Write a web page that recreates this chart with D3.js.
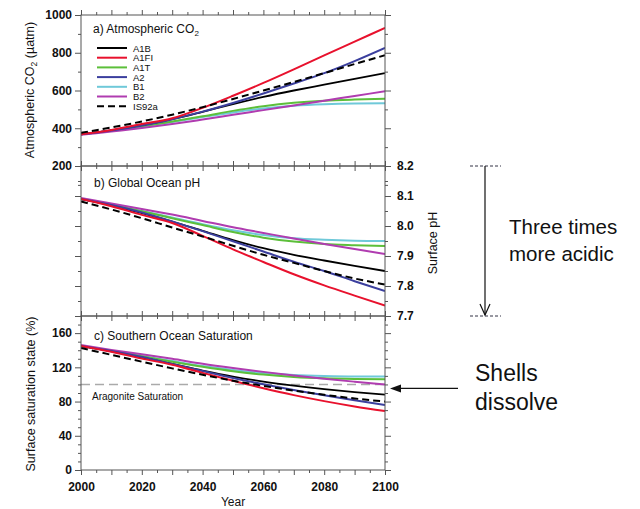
<!DOCTYPE html>
<html><head><meta charset="utf-8">
<script src="https://cdn.jsdelivr.net/npm/d3@7"></script>
<style>
body{margin:0;background:#fff}
text{font-family:"Liberation Sans",Arial,Helvetica,sans-serif;fill:#111}
</style>
</head><body>
<svg id="chart" width="640" height="509"></svg>
<script>
const years = [2000,2010,2020,2030,2040,2050,2060,2070,2080,2090,2100];
const scenarios = ["A1B","A1FI","A1T","A2","B1","B2","IS92a"];
const scenarioColors = ["#000000","#e8112d","#5cbf3a","#3b3f9e","#6fc9d9","#b03cb0","#000000"];

// a) Atmospheric CO2 (uatm)
const co2A1B   = [368,389,416,448,487,528,566,600,631,662,692];
const co2A1FI  = [368,391,422,453,508,572,640,712,786,859,932];
const co2A1T   = [368,387,410,436,463,492,517,535,546,552,556];
const co2A2    = [368,388,414,448,488,534,584,637,692,756,826];
const co2B1    = [368,387,409,433,459,484,505,519,527,531,532];
const co2B2    = [365,383,401,422,446,471,496,521,546,571,596];
const co2IS92a = [376,404,436,472,512,555,600,645,692,740,787];

// b) Global ocean pH
const phA1B   = [8.090,8.069,8.043,8.015,7.984,7.953,7.926,7.904,7.885,7.867,7.850];
const phA1FI  = [8.090,8.066,8.037,8.010,7.967,7.922,7.880,7.839,7.802,7.768,7.735];
const phA1T   = [8.090,8.071,8.049,8.026,8.003,7.980,7.961,7.948,7.940,7.936,7.933];
const phA2    = [8.090,8.070,8.045,8.015,7.983,7.949,7.915,7.881,7.850,7.816,7.783];
const phB1    = [8.090,8.071,8.050,8.028,8.006,7.986,7.970,7.959,7.954,7.951,7.950];
const phB2    = [8.093,8.075,8.057,8.038,8.017,7.996,7.977,7.958,7.940,7.923,7.907];
const phIS92a = [8.082,8.055,8.026,7.995,7.965,7.934,7.904,7.877,7.850,7.825,7.805];

// c) Southern Ocean saturation (%)
const satA1B   = [145,138.7,131.5,123.9,116.2,109.2,103.4,98.6,94.5,91,88];
const satA1FI  = [145,138.2,130.2,123,113.5,104.3,95.5,87.5,80.5,74.3,69];
const satA1T   = [145,139.3,133.0,126.6,120.7,115.5,111.5,108.8,107.2,106.4,106];
const satA2    = [145,139,132,123.9,115.7,107.6,100.2,93.5,87.5,81.5,76];
const satB1    = [145,139.3,133.3,127.3,121.5,117,113.3,111,109.9,109.4,109.4];
const satB2    = [146,140.4,135.4,130,124.3,119.3,114.7,110.5,106.6,103.2,100];
const satIS92a = [142.5,134.6,126.6,118.8,111.3,104.4,98.3,92.8,87.9,83.6,80];

const co2Ticks = [200,400,600,800,1000];
const phTicks = [7.7,7.8,7.9,8.0,8.1,8.2];
const satTicks = [0,40,80,120,160];
const yearTicks = [2000,2020,2040,2060,2080,2100];
const aragoniteLevel = 100;

const svg = d3.select("#chart");
const x = d3.scaleLinear().domain([2000,2100]).range([81,385]);

const panels = [
  {domain:[200,1000], range:[166,15], major:co2Ticks, minor:d3.range(100,1001,100),
   labelSide:"left", fmt:d=>d,
   series:[co2A1B,co2A1FI,co2A1T,co2A2,co2B1,co2B2,co2IS92a]},
  {domain:[7.7,8.2], range:[316,166], major:phTicks, minor:d3.range(7.7,8.201,0.05).map(v=>+v.toFixed(2)),
   labelSide:"right", fmt:d3.format(".1f"),
   series:[phA1B,phA1FI,phA1T,phA2,phB1,phB2,phIS92a]},
  {domain:[0,180], range:[470,316], major:satTicks, minor:d3.range(0,181,10),
   labelSide:"left", fmt:d=>d, xLabels:true,
   series:[satA1B,satA1FI,satA1T,satA2,satB1,satB2,satIS92a]}
];

const drawOrder = [4,2,0,5,3,1,6];
const axisColor = "#555";

function styleAxis(g){
  g.select(".domain").remove();
  g.selectAll(".tick line").attr("stroke",axisColor).attr("stroke-width",1);
  g.selectAll(".tick text").attr("font-size",12).attr("font-weight","bold")
    .attr("font-family","'Liberation Sans',Arial,sans-serif").attr("fill","#111");
}

panels.forEach((p,pi)=>{
  const y = d3.scaleLinear().domain(p.domain).range(p.range);
  p.y = y;
  const g = svg.append("g");
  const clipId = "clip"+pi;
  svg.append("clipPath").attr("id",clipId).append("rect")
    .attr("x",x(2000)).attr("y",p.range[1]).attr("width",x(2100)-x(2000)).attr("height",p.range[0]-p.range[1]);

  if(pi===2){
    g.append("line").attr("x1",x(2000)).attr("x2",x(2100))
      .attr("y1",y(aragoniteLevel)).attr("y2",y(aragoniteLevel))
      .attr("stroke","#aaa").attr("stroke-width",1.6).attr("stroke-dasharray","9,5");
    g.append("text").attr("x",92).attr("y",y(aragoniteLevel)+16)
      .attr("font-size",10).text("Aragonite Saturation");
  }

  const line = d3.line().x((d,i)=>x(years[i])).y(d=>y(d)).curve(d3.curveMonotoneX);
  const lg = g.append("g").attr("clip-path",`url(#${clipId})`);
  drawOrder.forEach(si=>{
    lg.append("path").datum(p.series[si]).attr("d",line).attr("fill","none")
      .attr("stroke",scenarioColors[si])
      .attr("stroke-width", si===0 ? 1.8 : 2)
      .attr("stroke-dasharray", si===6 ? "7,4" : null);
  });

  // frame
  g.append("rect").attr("x",x(2000)).attr("y",p.range[1])
    .attr("width",x(2100)-x(2000)).attr("height",p.range[0]-p.range[1])
    .attr("fill","none").attr("stroke",axisColor).attr("stroke-width",1);

  const minorY = p.minor.filter(v=>!p.major.some(m=>Math.abs(m-v)<1e-9));
  // left
  g.append("g").attr("transform",`translate(${x(2000)},0)`)
    .call(d3.axisLeft(y).tickValues(p.major).tickSize(6).tickPadding(3)
      .tickFormat(p.labelSide==="left"?p.fmt:""))
    .call(styleAxis);
  g.append("g").attr("transform",`translate(${x(2000)},0)`)
    .call(d3.axisLeft(y).tickValues(minorY).tickSize(3).tickFormat("")).call(styleAxis);
  // right
  g.append("g").attr("transform",`translate(${x(2100)},0)`)
    .call(d3.axisRight(y).tickValues(p.major).tickSize(6).tickPadding(6)
      .tickFormat(p.labelSide==="right"?p.fmt:""))
    .call(styleAxis);
  g.append("g").attr("transform",`translate(${x(2100)},0)`)
    .call(d3.axisRight(y).tickValues(minorY).tickSize(3).tickFormat("")).call(styleAxis);

  const majorX = d3.range(2000,2101,10);
  const minorX = d3.range(2005,2100,10);
  // top
  g.append("g").attr("transform",`translate(0,${p.range[1]})`)
    .call(d3.axisTop(x).tickValues(majorX).tickSize(5).tickFormat("")).call(styleAxis);
  g.append("g").attr("transform",`translate(0,${p.range[1]})`)
    .call(d3.axisTop(x).tickValues(minorX).tickSize(3).tickFormat("")).call(styleAxis);
  // bottom
  g.append("g").attr("transform",`translate(0,${p.range[0]})`)
    .call(d3.axisBottom(x).tickValues(majorX).tickSize(5).tickPadding(7)
      .tickFormat(d=> (p.xLabels && yearTicks.includes(d)) ? d : ""))
    .call(styleAxis);
  g.append("g").attr("transform",`translate(0,${p.range[0]})`)
    .call(d3.axisBottom(x).tickValues(minorX).tickSize(3).tickFormat("")).call(styleAxis);
});

// panel titles
const t1 = svg.append("text").attr("x",93).attr("y",33).attr("font-size",12);
t1.append("tspan").text("a) Atmospheric CO");
t1.append("tspan").attr("dy",3).attr("font-size",8).text("2");
svg.append("text").attr("x",94).attr("y",187).attr("font-size",12).text("b) Global Ocean pH");
svg.append("text").attr("x",94).attr("y",340).attr("font-size",12).text("c) Southern Ocean Saturation");

// legend
const legend = svg.append("g");
scenarios.forEach((s,i)=>{
  const yy = 48 + i*9.7;
  legend.append("line").attr("x1",97).attr("x2",127).attr("y1",yy).attr("y2",yy)
    .attr("stroke",scenarioColors[i]).attr("stroke-width",2)
    .attr("stroke-dasharray", i===6 ? "7,4" : null);
  legend.append("text").attr("x",133).attr("y",yy+3.5).attr("font-size",9.5).text(s);
});

// axis titles
const yl1 = svg.append("text").attr("transform","translate(34,90) rotate(-90)")
  .attr("text-anchor","middle").attr("font-size",12.5);
yl1.append("tspan").text("Atmospheric CO");
yl1.append("tspan").attr("dy",3).attr("font-size",8.5).text("2");
yl1.append("tspan").attr("dy",-3).text(" (µatm)");
svg.append("text").attr("transform","translate(35,394) rotate(-90)")
  .attr("text-anchor","middle").attr("font-size",12.5).text("Surface saturation state (%)");
svg.append("text").attr("transform","translate(437,243) rotate(-90)")
  .attr("text-anchor","middle").attr("font-size",12.5).text("Surface pH");
svg.append("text").attr("x",233).attr("y",506).attr("text-anchor","middle")
  .attr("font-size",12).text("Year");

// annotations
const ann = svg.append("g");
const yTop = panels[1].y(8.2), yBot = panels[1].y(7.7);
[yTop,yBot].forEach(yy=>{
  ann.append("line").attr("x1",470).attr("x2",501).attr("y1",yy).attr("y2",yy)
    .attr("stroke","#334").attr("stroke-width",1).attr("stroke-dasharray","3,2");
});
ann.append("line").attr("x1",485).attr("x2",485).attr("y1",yTop).attr("y2",yBot-1)
  .attr("stroke","#111").attr("stroke-width",1.2);
ann.append("path").attr("d",`M480,${yBot-12} L485,${yBot-1} L490,${yBot-12}`)
  .attr("fill","none").attr("stroke","#111").attr("stroke-width",1.2);
ann.append("text").attr("x",509).attr("y",234).attr("font-size",20.5).text("Three times");
ann.append("text").attr("x",509).attr("y",261).attr("font-size",20.5).text("more acidic");

const yArr = panels[2].y(aragoniteLevel)+4;
ann.append("line").attr("x1",398).attr("x2",458).attr("y1",yArr).attr("y2",yArr)
  .attr("stroke","#111").attr("stroke-width",1.2);
ann.append("path").attr("d",`M390,${yArr} L401,${yArr-4} L401,${yArr+4} Z`).attr("fill","#111");
ann.append("text").attr("x",475).attr("y",381).attr("font-size",23).text("Shells");
ann.append("text").attr("x",475).attr("y",410).attr("font-size",23).text("dissolve");
</script>
</body></html>
